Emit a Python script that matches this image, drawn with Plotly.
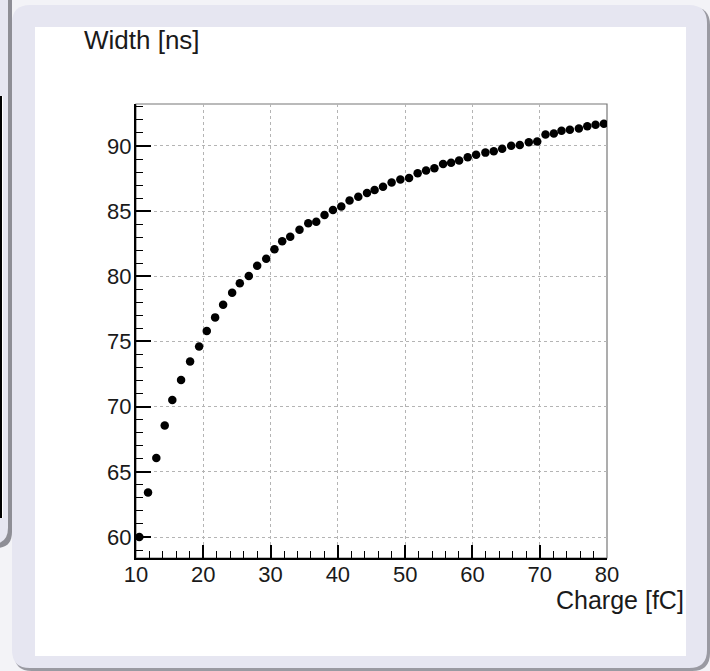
import plotly.graph_objects as go

charge_fc = [10.49, 11.79, 13.02, 14.27, 15.40, 16.70, 18.04, 19.38, 20.52, 21.76,
             22.95, 24.29, 25.43, 26.77, 28.01, 29.35, 30.58, 31.73, 32.92, 34.30,
             35.60, 36.79, 38.02, 39.27, 40.51, 41.74, 43.04, 44.33, 45.46, 46.71,
             47.99, 49.29, 50.58, 51.86, 53.11, 54.35, 55.64, 56.83, 58.02, 59.30,
             60.55, 61.93, 63.17, 64.42, 65.76, 67.04, 68.38, 69.63, 70.86, 72.10,
             73.24, 74.48, 75.82, 77.07, 78.30, 79.54]
width_ns = [60.00, 63.41, 66.07, 68.56, 70.52, 72.04, 73.47, 74.62, 75.80, 76.85,
            77.82, 78.74, 79.46, 80.02, 80.81, 81.35, 82.07, 82.69, 83.04, 83.58,
            84.07, 84.19, 84.71, 85.09, 85.35, 85.81, 86.11, 86.40, 86.63, 86.88,
            87.19, 87.42, 87.55, 87.91, 88.11, 88.29, 88.62, 88.72, 88.88, 89.14,
            89.32, 89.49, 89.60, 89.78, 90.01, 90.08, 90.29, 90.34, 90.88, 90.95,
            91.16, 91.24, 91.34, 91.52, 91.62, 91.70]
x_ticks = [10, 20, 30, 40, 50, 60, 70, 80]
y_ticks = [60, 65, 70, 75, 80, 85, 90]

W, H = 710, 671
ML, MR, MT, MB = 136, 103, 104, 113
PW, PH = W - ML - MR, H - MT - MB


def px(X):
    return (X - ML) / PW


def py(Y):
    return (H - MB - Y) / PH


def rrect(x0, y0, x1, y1, r):
    pts = [
        f"M {px(x0 + r)} {py(y0)}",
        f"L {px(x1 - r)} {py(y0)}",
        f"Q {px(x1)} {py(y0)} {px(x1)} {py(y0 + r)}",
        f"L {px(x1)} {py(y1 - r)}",
        f"Q {px(x1)} {py(y1)} {px(x1 - r)} {py(y1)}",
        f"L {px(x0 + r)} {py(y1)}",
        f"Q {px(x0)} {py(y1)} {px(x0)} {py(y1 - r)}",
        f"L {px(x0)} {py(y0 + r)}",
        f"Q {px(x0)} {py(y0)} {px(x0 + r)} {py(y0)}",
        "Z",
    ]
    return " ".join(pts)


LAV = "#e6e6f1"
shapes = [
    # left neighbouring panel
    dict(type="path", path=rrect(-40, -20, 12, 548, 16), fillcolor="#8e8e96", line_width=0),
    dict(type="path", path=rrect(-40, -20, 8, 544, 16), fillcolor=LAV, line_width=0),
    dict(type="rect", x0=px(-5), x1=px(3), y0=py(518), y1=py(96), fillcolor="white", line_width=0),
    dict(type="line", x0=px(1), x1=px(1), y0=py(518), y1=py(96), line=dict(color="black", width=2)),
    # main panel
    dict(type="path", path=rrect(14, 7, 710, 671, 18), fillcolor="#9a9aa2", line_width=0),
    dict(type="path", path=rrect(12, 5, 707, 668, 18), fillcolor=LAV, line_width=0),
    dict(type="rect", x0=px(35), x1=px(686), y0=py(656), y1=py(27), fillcolor="white", line_width=0),
    # plot frame
    dict(type="rect", x0=0, x1=1, y0=0, y1=1, line=dict(color="#777777", width=1.2)),
]
for s in shapes:
    s.setdefault("xref", "paper")
    s.setdefault("yref", "paper")
    s.setdefault("layer", "below")

fig = go.Figure(
    go.Scatter(
        x=charge_fc, y=width_ns, mode="markers",
        marker=dict(color="black", size=8.5, symbol="circle"),
        hoverinfo="x+y",
    )
)

font_family = "Liberation Sans, Arial, sans-serif"
axis_common = dict(
    showline=True, linecolor="black", linewidth=2,
    ticks="inside", tickcolor="black", tickwidth=1.5,
    showgrid=True, gridcolor="#b4b4b4", griddash="dot", gridwidth=1,
    zeroline=False,
    tickfont=dict(family=font_family, size=22, color="#1a1a1a"),
)

fig.update_xaxes(
    **axis_common, range=[10, 80], tickvals=x_ticks, ticklen=13, ticklabelstandoff=-4,
    minor=dict(ticks="inside", dtick=2, ticklen=7, tickcolor="black", tickwidth=1.2, showgrid=False),
)
fig.update_yaxes(
    **axis_common, range=[58.39, 93.22], tickvals=y_ticks, ticklen=15, ticklabelstandoff=-2,
    minor=dict(ticks="inside", dtick=1, ticklen=7, tickcolor="black", tickwidth=1.2, showgrid=False),
)

fig.update_layout(
    width=W, height=H,
    margin=dict(l=ML, r=MR, t=MT, b=MB, pad=0),
    paper_bgcolor="#f3f3f7",
    plot_bgcolor="white",
    showlegend=False,
    shapes=shapes,
    font=dict(family=font_family, color="#1a1a1a"),
    annotations=[
        dict(text="Width [ns]", xref="paper", yref="paper", x=px(82), y=py(40),
             xanchor="left", yanchor="middle", showarrow=False,
             font=dict(size=26, family=font_family, color="#1a1a1a")),
        dict(text="Charge [fC]", xref="paper", yref="paper", x=px(686), y=py(600),
             xanchor="right", yanchor="middle", showarrow=False,
             font=dict(size=25, family=font_family, color="#1a1a1a")),
    ],
)

fig.write_html(
    "out.html",
    config={"displayModeBar": False},
    post_script="document.body.style.margin='0';document.body.style.padding='0';document.body.style.overflow='hidden';",
)
